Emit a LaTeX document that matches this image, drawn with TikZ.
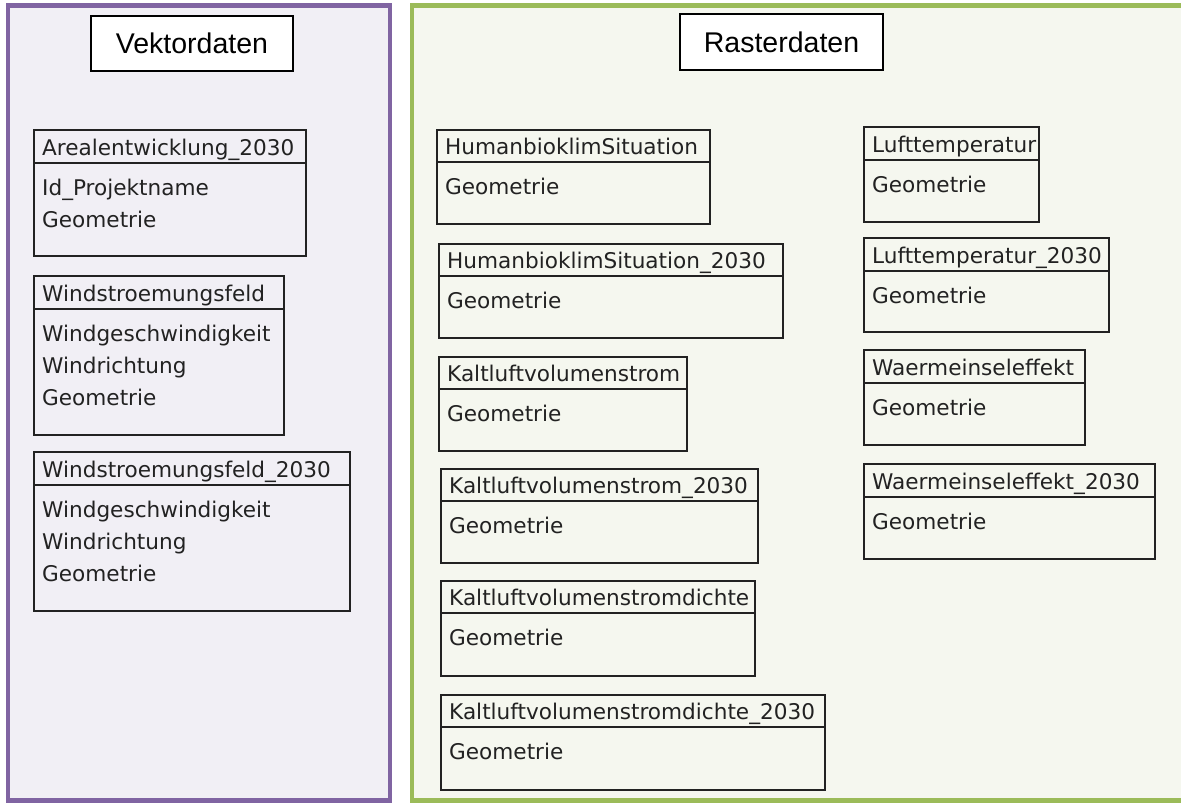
\documentclass[tikz,border=0pt]{standalone}
\usepackage{fontspec}
\setmainfont{Liberation Sans}
\newfontfamily\umlfont{DejaVu Sans}
\usetikzlibrary{fit}
\definecolor{vpurple}{HTML}{8064A2}
\definecolor{vfill}{HTML}{F1EFF5}
\definecolor{rgreen}{HTML}{9BBB59}
\definecolor{rfill}{HTML}{F5F7EF}
\definecolor{umlink}{HTML}{222222}
\tikzset{
  panelline/.style={line width=4.5bp},
  headbox/.style={draw=black, fill=white, line width=1.8bp, inner sep=0pt,
    font=\fontsize{28.5bp}{34bp}\selectfont},
  classbox/.style={draw=umlink, line width=1.8bp, inner sep=0pt},
  classline/.style={draw=umlink, line width=1.8bp},
  classtext/.style={anchor=base west, inner sep=0pt, text=umlink,
    font=\umlfont\fontsize{21.6bp}{26bp}\selectfont},
}
\newcommand{\umlclass}[7]{%
  \node[classbox, fit={(#2,#3) (#4,#6)}] (#1) {};
  \node[classtext] (#1-title) at (#2+8,#5-8) {#7};
  \draw[classline] (#2,#5) -- (#4,#5);
}
\newcommand{\umlattr}[4]{%
  \node[classtext] (#1) at (#2+8,#3) {#4};
}
\begin{document}
\begin{tikzpicture}[x=1bp,y=-1bp]
\useasboundingbox (0,0) rectangle (1181,803);
% panels
\draw[panelline, draw=vpurple, fill=vfill] (8,5.3) rectangle (390,800.5);
\fill[rfill] (412,5.3) rectangle (1181,800.5);
\draw[panelline, draw=rgreen] (1181,5.3) -- (412,5.3) -- (412,800.5) -- (1181,800.5);
% headings
\node[headbox, minimum width=202bp, minimum height=55bp] (vek) at (192,43.5) {Vektordaten};
\node[headbox, minimum width=203bp, minimum height=56bp] (ras) at (781.5,42) {Rasterdaten};
% vector classes
\umlclass{area}{34}{130}{306}{163}{256}{Arealentwicklung\_2030}
\umlattr{area-a1}{34}{195}{Id\_Projektname}
\umlattr{area-a2}{34}{227}{Geometrie}
\umlclass{wind}{34}{276}{284}{309}{435}{Windstroemungsfeld}
\umlattr{wind-a1}{34}{341}{Windgeschwindigkeit}
\umlattr{wind-a2}{34}{373}{Windrichtung}
\umlattr{wind-a3}{34}{405}{Geometrie}
\umlclass{windb}{34}{452}{350}{485}{611}{Windstroemungsfeld\_2030}
\umlattr{windb-a1}{34}{517}{Windgeschwindigkeit}
\umlattr{windb-a2}{34}{549}{Windrichtung}
\umlattr{windb-a3}{34}{581}{Geometrie}
% raster classes, column 1
\umlclass{hbs}{437}{130}{710}{162}{224}{HumanbioklimSituation}
\umlattr{hbs-a1}{437}{194}{Geometrie}
\umlclass{hbsb}{439}{244}{783}{276}{338}{HumanbioklimSituation\_2030}
\umlattr{hbsb-a1}{439}{308}{Geometrie}
\umlclass{kvs}{439}{357}{687}{389}{451}{Kaltluftvolumenstrom}
\umlattr{kvs-a1}{439}{421}{Geometrie}
\umlclass{kvsb}{441}{469}{758}{501}{563}{Kaltluftvolumenstrom\_2030}
\umlattr{kvsb-a1}{441}{533}{Geometrie}
\umlclass{kvsd}{441}{581}{755}{613}{676}{Kaltluftvolumenstromdichte}
\umlattr{kvsd-a1}{441}{645}{Geometrie}
\umlclass{kvsdb}{441}{695}{825}{727}{790}{Kaltluftvolumenstromdichte\_2030}
\umlattr{kvsdb-a1}{441}{759}{Geometrie}
% raster classes, column 2
\umlclass{lt}{864}{127}{1039}{160}{222}{Lufttemperatur}
\umlattr{lt-a1}{864}{192}{Geometrie}
\umlclass{ltb}{864}{238}{1109}{271}{332}{Lufttemperatur\_2030}
\umlattr{ltb-a1}{864}{303}{Geometrie}
\umlclass{wie}{864}{350}{1085}{383}{445}{Waermeinseleffekt}
\umlattr{wie-a1}{864}{415}{Geometrie}
\umlclass{wieb}{864}{464}{1155}{497}{559}{Waermeinseleffekt\_2030}
\umlattr{wieb-a1}{864}{529}{Geometrie}
\end{tikzpicture}
\end{document}
